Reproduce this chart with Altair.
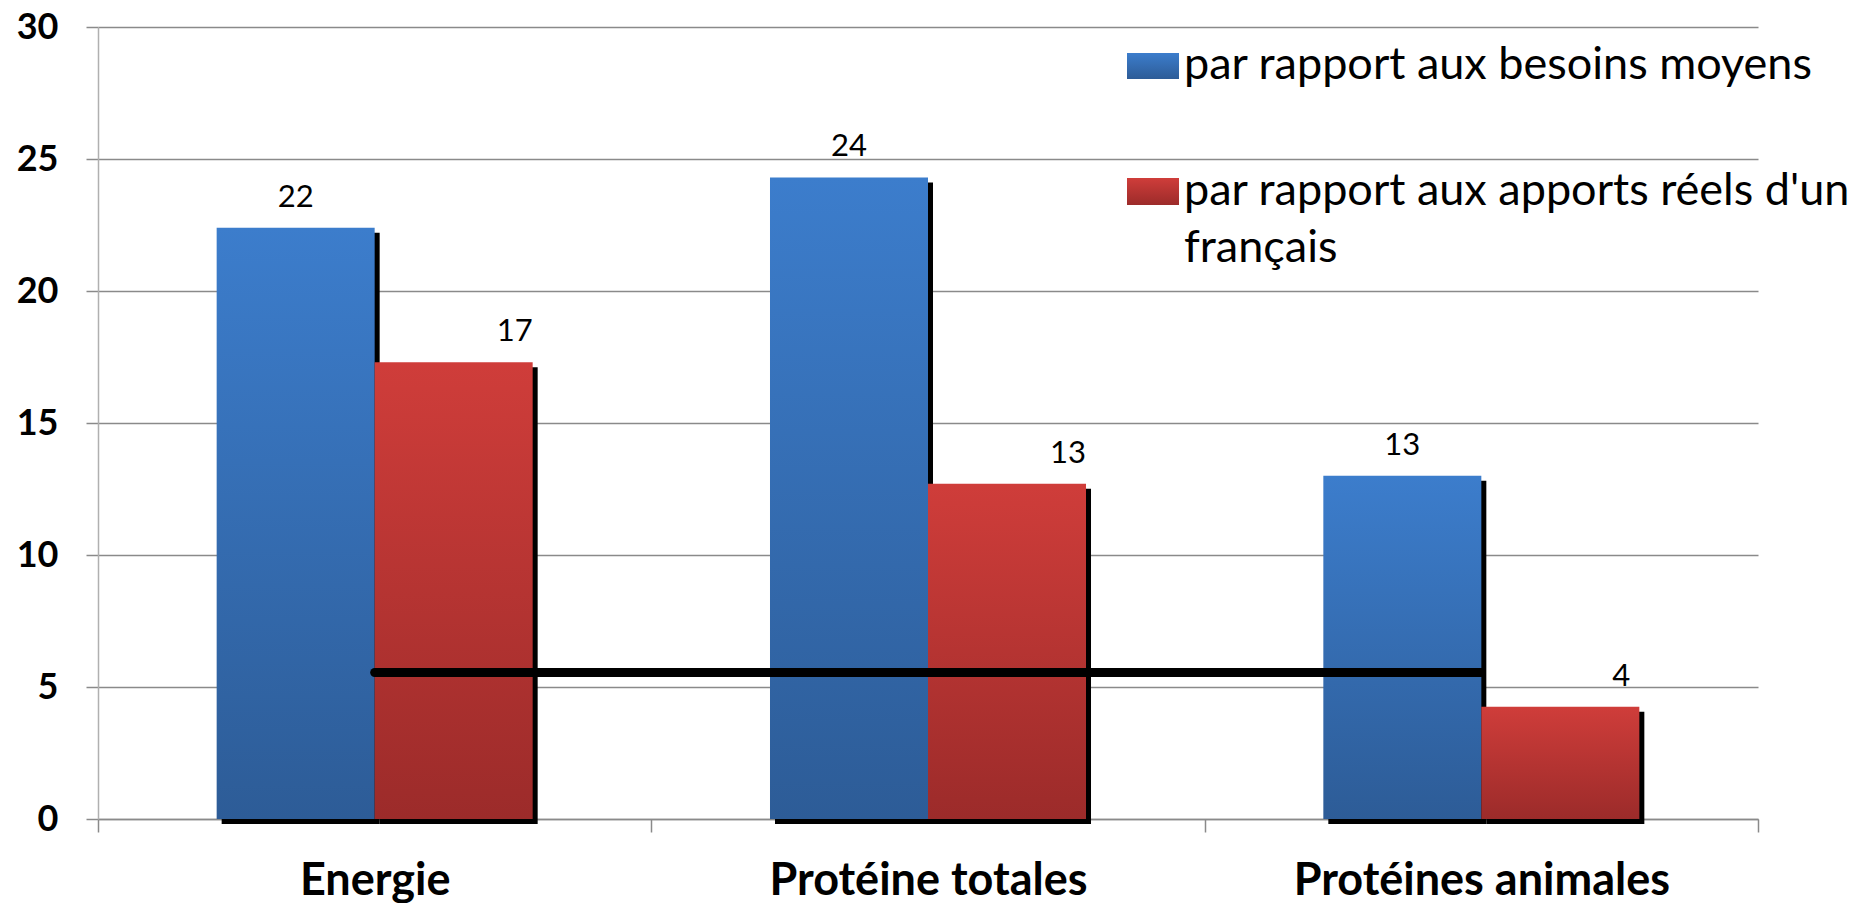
import altair as alt
import pandas as pd

# ---- data ----
categories = ["Energie", "Protéine totales", "Protéines animales"]
series = ["par rapport aux besoins moyens", "par rapport aux apports réels d'un français"]
besoins_moyens = [22.4, 24.3, 13.0]
apports_reels = [17.3, 12.7, 4.25]
line_categories = ["Energie", "Protéines animales"]
line_values = [5.55, 5.55]
y_ticks = [0, 5, 10, 15, 20, 25, 30]
legend_labels = ["par rapport aux besoins moyens", "par rapport aux apports réels d'un\nfrançais"]

rows = []
for c, v in zip(categories, besoins_moyens):
    rows.append({"categorie": c, "serie": series[0], "valeur": v})
for c, v in zip(categories, apports_reels):
    rows.append({"categorie": c, "serie": series[1], "valeur": v})
df = pd.DataFrame(rows)
line_df = pd.DataFrame({"categorie": line_categories, "valeur": line_values})

GRAY = "#8a8a8a"
FONT = "Lato"
W, H = 1660, 792
STEP = W / len(categories)

blue_grad = alt.LinearGradient(
    gradient="linear", x1=0, y1=0, x2=0, y2=1,
    stops=[alt.GradientStop(color="#3C7DCC", offset=0),
           alt.GradientStop(color="#2D5C97", offset=1)])
red_grad = alt.LinearGradient(
    gradient="linear", x1=0, y1=0, x2=0, y2=1,
    stops=[alt.GradientStop(color="#CF3D3A", offset=0),
           alt.GradientStop(color="#9C2B2A", offset=1)])

x_enc = alt.X(
    "categorie:N", sort=categories,
    scale=alt.Scale(domain=categories, paddingInner=0, paddingOuter=0),
    axis=alt.Axis(title=None, labelAngle=0, tickBand="extent", tickSize=13,
                  tickColor=GRAY, tickWidth=1.5, domainColor=GRAY, domainWidth=1.5,
                  labelFont=FONT, labelFontSize=45, labelFontWeight="bold",
                  labelColor="black", labelPadding=62, labelBaseline="alphabetic",
                  labelLimit=0, grid=False))
y_enc = alt.Y(
    "valeur:Q",
    scale=alt.Scale(domain=[0, 30], nice=False, zero=True),
    axis=alt.Axis(values=y_ticks, title=None, grid=True, gridColor=GRAY, gridWidth=1.5,
                  tickSize=12, tickColor=GRAY, tickWidth=1.5,
                  domainColor="#b0b0b0", domainWidth=1.5,
                  labelFont=FONT, labelFontSize=36, labelFontWeight="bold",
                  labelColor="black", labelPadding=28))

def xo(shift=0):
    sc = dict(type="band", domain=series, paddingInner=0, paddingOuter=0.751)
    if shift:
        sc["range"] = [shift, STEP + shift]
    return alt.XOffset("serie:N", sort=series, scale=alt.Scale(**sc))

base = alt.Chart(df)

shadows = base.mark_bar(color="black", yOffset=5, y2Offset=3).encode(
    x=x_enc, xOffset=xo(5), y=y_enc)

bars_blue = base.transform_filter(alt.datum.serie == series[0]).mark_bar(
    color=blue_grad).encode(x=x_enc, xOffset=xo(), y=y_enc)
bars_red = base.transform_filter(alt.datum.serie == series[1]).mark_bar(
    color=red_grad).encode(x=x_enc, xOffset=xo(), y=y_enc)

line = alt.Chart(line_df).mark_line(color="black", strokeWidth=9, strokeCap="round").encode(
    x=x_enc, y=y_enc)

labels_blue = base.transform_filter(alt.datum.serie == series[0]).mark_text(
    font=FONT, fontSize=31, color="black", baseline="alphabetic", dy=-21).encode(
    x=x_enc, xOffset=xo(), y=y_enc, text=alt.Text("valeur:Q", format=".0f"))
labels_red = base.transform_filter(alt.datum.serie == series[1]).mark_text(
    font=FONT, fontSize=31, color="black", baseline="alphabetic", dy=-21, dx=61).encode(
    x=x_enc, xOffset=xo(), y=y_enc, text=alt.Text("valeur:Q", format=".0f"))

leg1 = pd.DataFrame({"label": [legend_labels[0]]})
leg2 = pd.DataFrame({"label": [legend_labels[1]]})

leg1_box = alt.Chart(leg1).mark_rect(color=blue_grad).encode(
    x=alt.value(1029), x2=alt.value(1081), y=alt.value(26), y2=alt.value(52))
leg2_box = alt.Chart(leg2).mark_rect(color=red_grad).encode(
    x=alt.value(1029), x2=alt.value(1081), y=alt.value(151), y2=alt.value(178))
leg1_txt = alt.Chart(leg1).mark_text(
    font=FONT, fontSize=45, color="black", align="left", baseline="alphabetic").encode(
    x=alt.value(1086), y=alt.value(52), text="label:N")
leg2_txt = alt.Chart(leg2).mark_text(
    font=FONT, fontSize=45, color="black", align="left", baseline="alphabetic",
    lineBreak="\n", lineHeight=57).encode(
    x=alt.value(1086), y=alt.value(178), text="label:N")

chart = alt.layer(
    shadows, bars_blue, bars_red, line, labels_blue, labels_red,
    leg1_box, leg2_box, leg1_txt, leg2_txt
).resolve_scale(xOffset="independent").properties(
    width=W, height=H,
    autosize=alt.AutoSizeParams(type="none"),
    padding={"left": 90, "top": 19, "right": 91, "bottom": 84},
    background="white",
).configure_view(stroke=None)

chart.save("out.html", embed_options={"renderer": "svg", "actions": False})
